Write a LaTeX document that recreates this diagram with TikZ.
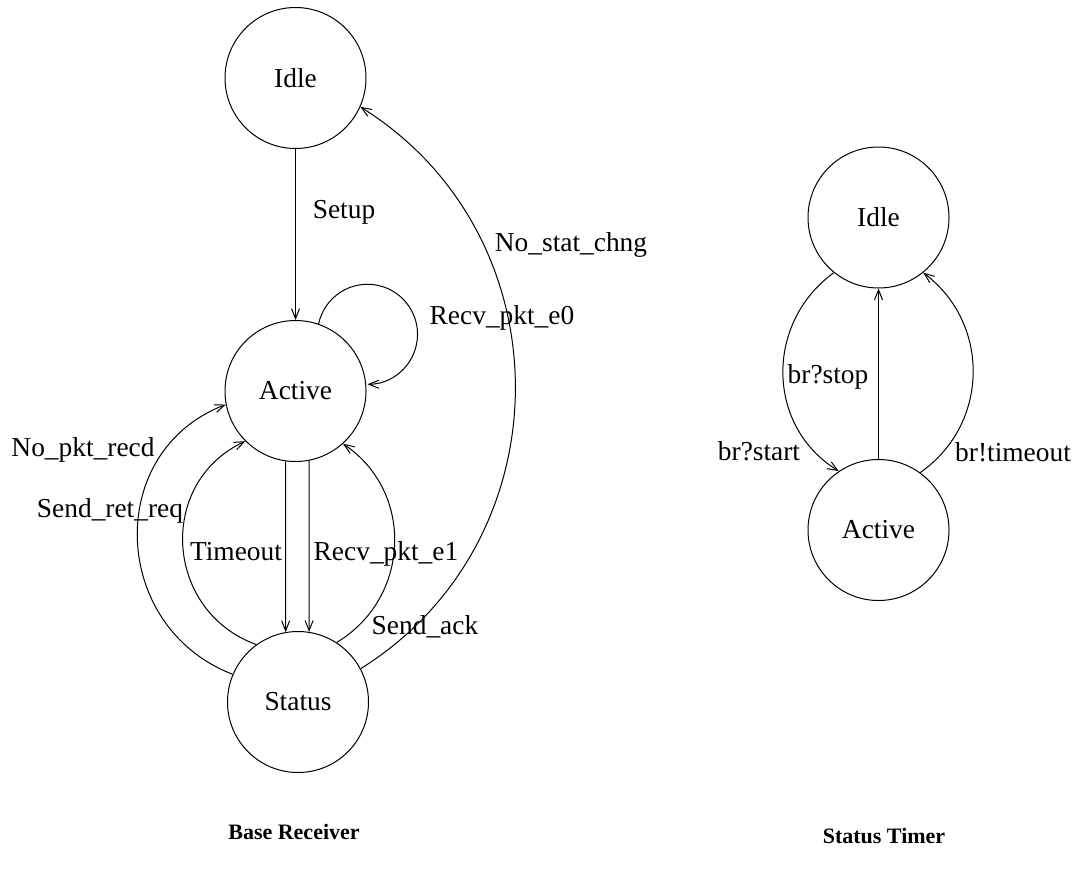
\documentclass[tikz,border=0pt]{standalone}
\usepackage{fontspec}
\setmainfont{Liberation Serif}
\usetikzlibrary{arrows.meta}
\begin{document}
\begin{tikzpicture}[x=1pt,y=1pt,
  state/.style={circle,draw,line width=1pt,minimum size=141pt,inner sep=0pt,
                font=\fontsize{27.4}{30}\selectfont},
  trans/.style={draw,line width=1pt,-{Straight Barb[length=10pt,width=8pt]}},
  lbl/.style={font=\fontsize{27.4}{30}\selectfont,inner sep=0pt},
  title/.style={font=\bfseries\fontsize{22}{26}\selectfont,inner sep=0pt}]
\useasboundingbox (0,0) rectangle (1083,-880);

% Base receiver machine
\node[state] (bidle)   at (295.5,-78)  {Idle};
\node[state] (bactive) at (295.5,-391) {Active};
\node[state] (bstatus) at (298,-702)   {Status};

\draw[trans] (bidle.south) -- (bactive.north);
\draw[trans] (bactive.71) arc[start angle=168,end angle=-90,radius=50];
\draw[trans] (bactive.262) -- (bstatus.100);
\draw[trans] (bactive.281) -- (bstatus.81);
\draw[trans] (bstatus.126) to[out=160,in=205,looseness=1.23] (bactive.225);
\draw[trans] (bstatus.157) to[out=159,in=201,looseness=1.24] (bactive.191);
\draw[trans] (bstatus.57) to[out=31,in=-34,looseness=1.11] (bactive.-48);
\draw[trans] (bstatus.28) to[out=32,in=-32,looseness=1.11] (bidle.-24);

\node[lbl] (lsetup)  at (344,-212) {Setup};
\node[lbl] (le0)     at (502,-318) {Recv\_pkt\_e0};
\node[lbl] (lnostat) at (571,-245) {No\_stat\_chng};
\node[lbl] (lnopkt)  at (83,-450)  {No\_pkt\_recd};
\node[lbl] (lsret)   at (110,-511) {Send\_ret\_req};
\node[lbl] (ltime)   at (236,-552) {Timeout};
\node[lbl] (le1)     at (386,-554) {Recv\_pkt\_e1};
\node[lbl] (lsack)   at (425,-627) {Send\_ack};

\node[title] (tbase) at (294,-832) {Base Receiver};

% Status timer machine
\node[state] (tidle)   at (878.5,-217.5) {Idle};
\node[state] (tactive) at (878.5,-530)   {Active};

\draw[trans] (tactive.north) -- (tidle.south);
\draw[trans] (tidle.231) to[out=216,in=148.5,looseness=1.1] (tactive.124);
\draw[trans] (tactive.54) to[out=35,in=-37,looseness=1.08] (tidle.-51);

\node[lbl] (lstop)  at (828,-377)  {br?stop};
\node[lbl] (lstart) at (759,-451)  {br?start};
\node[lbl] (ltmo)   at (1013,-452) {br!timeout};

\node[title] (ttimer) at (884,-836) {Status Timer};
\end{tikzpicture}
\end{document}
